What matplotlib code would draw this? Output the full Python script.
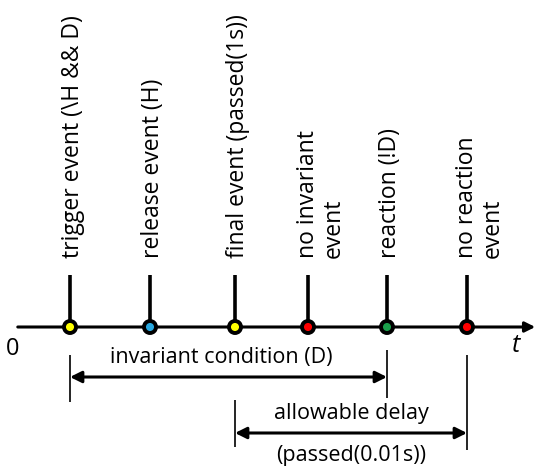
import matplotlib.pyplot as plt

# event positions along the time axis (pixel-like units)
event_x = [70, 150, 235, 308, 387, 467]
event_labels = ['trigger event (\\H && D)', 'release event (H)', 'final event (passed(1s))',
                'no invariant\nevent', 'reaction (!D)', 'no reaction\nevent']
event_colors = ['#ffff00', '#29a8e0', '#ffff00', '#ff0000', '#1a9e4a', '#ff0000']

# interval brackets: (start, end, label above, label below)
ranges = [(70, 387, 'invariant condition (D)', ''),
          (235, 467, 'allowable delay', '(passed(0.01s))')]

plt.rcParams['font.family'] = ['Open Sans', 'DejaVu Sans']
fig = plt.figure(figsize=(5.39, 4.71), dpi=100)
ax = fig.add_axes([0, 0, 1, 1])
ax.set_xlim(0, 539)
ax.set_ylim(471, 0)
ax.axis('off')

axis_y = 327
fs_rot = 16.5
fs = 15.5

# time axis
ax.annotate('', xy=(538, axis_y), xytext=(15, axis_y),
            arrowprops=dict(arrowstyle='-|>', lw=2.2, color='black', mutation_scale=15))
ax.text(13, 349, '0', fontsize=17, ha='center', va='center')
ax.text(516, 346, 't', fontsize=18, style='italic', ha='center', va='center')

# stems + labels
ax.vlines(event_x, 275, axis_y, color='black', lw=2.6)
for x, lab in zip(event_x, event_labels):
    if '\n' in lab:
        ax.text(x - 12, 258, lab, rotation=90, fontsize=fs_rot, ha='left', va='bottom',
                multialignment='left', linespacing=1.1)
    else:
        ax.text(x + 3, 258, lab, rotation=90, fontsize=fs_rot, ha='center', va='bottom')

ax.scatter(event_x, [axis_y] * len(event_x), s=75, c=event_colors,
           edgecolors='black', linewidths=2.8, zorder=5)

# interval brackets
tick_spans = [((355, 402), (350, 398)), ((400, 447), (355, 450))]
for (x0, x1, top, bottom), (s0, s1) in zip(ranges, tick_spans):
    ax.vlines([x0], s0[0], s0[1], color='black', lw=1.2)
    ax.vlines([x1], s1[0], s1[1], color='black', lw=1.2)
    ay = 377 if bottom == '' else 433
    ax.annotate('', xy=(x1, ay), xytext=(x0, ay),
                arrowprops=dict(arrowstyle='<|-|>', lw=2.2, color='black',
                                mutation_scale=17, shrinkA=0, shrinkB=0))
    ax.text((x0 + x1) / 2 + (-7 if bottom == '' else 0), ay - 20, top, fontsize=fs,
            ha='center', va='center')
    if bottom:
        ax.text((x0 + x1) / 2, ay + 22, bottom, fontsize=fs, ha='center', va='center')

fig.savefig('out.png', dpi=100)
